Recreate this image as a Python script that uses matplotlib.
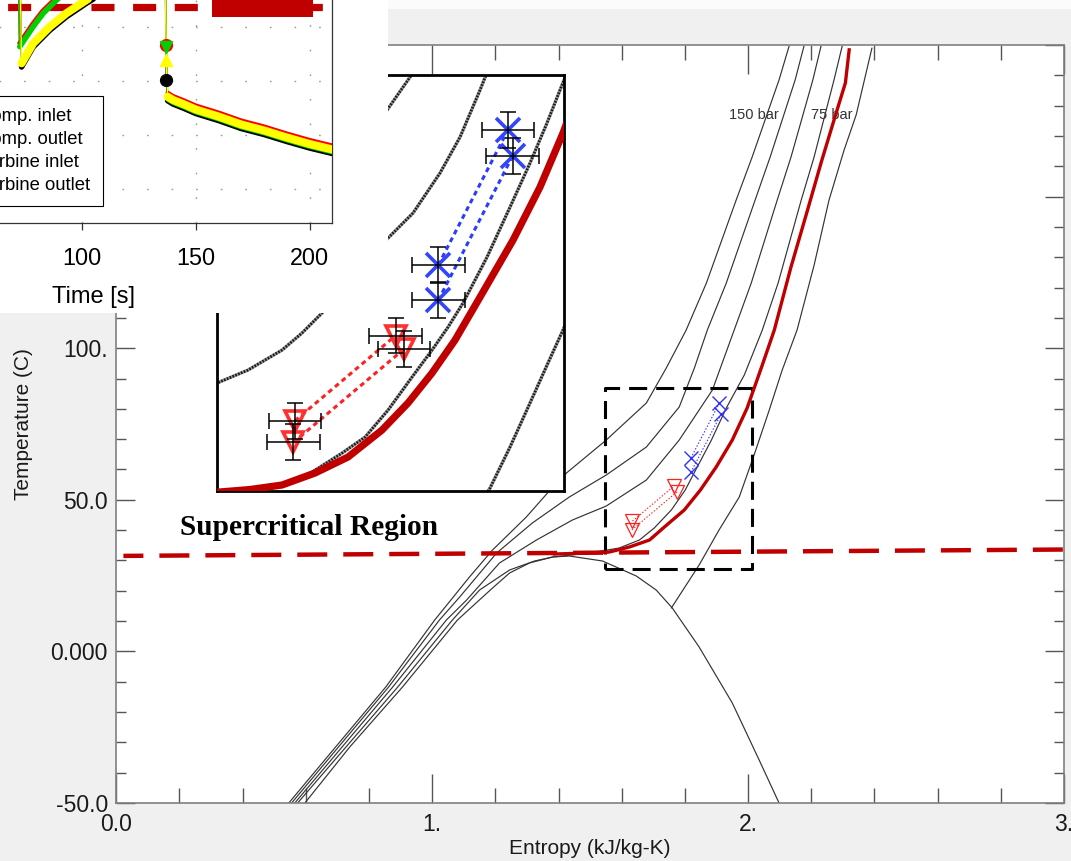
import matplotlib
matplotlib.use("Agg")
import numpy as np
import matplotlib.pyplot as plt
from matplotlib.lines import Line2D
from matplotlib.patches import Rectangle

plt.rcParams["font.family"] = ["Liberation Sans", "DejaVu Sans"]
plt.rcParams["lines.scale_dashes"] = False

W, H, DPI = 1071, 861, 100

# ---------------- main T-s chart data (entropy kJ/kg-K, temperature C) ----------------
dome_s = [0.597, 0.739, 0.906, 1.080, 1.191, 1.245, 1.308, 1.381, 1.434, 1.539, 1.646,
          1.709, 1.760, 1.845, 1.950, 2.035, 2.098]
dome_T = [-50.0, -31.53, -11.74, 10.36, 20.91, 25.86, 29.16, 31.13, 31.46, 29.82, 24.87,
          20.25, 14.31, 1.45, -17.02, -35.82, -50.0]

iso150_s = [0.546, 0.853, 1.008, 1.118, 1.191, 1.298, 1.365, 1.425, 1.551, 1.678, 1.741,
            1.804, 1.868, 1.962, 2.013, 2.098, 2.130]
iso150_T = [-50.0, -11.74, 10.36, 24.54, 33.44, 44.33, 52.24, 58.84, 69.72, 81.93, 93.47,
            106.0, 121.5, 148.8, 163.1, 188.5, 199.7]

iso120_s = [0.555, 0.862, 1.023, 1.087, 1.204, 1.317, 1.434, 1.551, 1.678, 1.782, 1.830,
            1.871, 1.931, 2.022, 2.070, 2.149, 2.177]
iso120_T = [-50.0, -11.74, 10.36, 17.94, 32.45, 42.35, 50.92, 58.18, 67.41, 80.61, 93.47,
            106.0, 121.5, 148.8, 163.1, 188.5, 199.7]

iso100_s = [0.565, 0.875, 1.045, 1.109, 1.213, 1.330, 1.444, 1.551, 1.678, 1.782, 1.887,
            1.956, 2.010, 2.092, 2.136, 2.205, 2.231]
iso100_T = [-50.0, -11.74, 10.36, 16.95, 29.16, 36.74, 43.34, 47.95, 56.53, 69.72, 86.21,
            106.0, 121.5, 148.8, 163.1, 188.5, 199.7]

iso85_s = [0.574, 0.891, 1.064, 1.150, 1.245, 1.324, 1.381, 1.498, 1.592, 1.656, 1.703,
           1.757, 1.801, 1.839, 1.884, 1.931, 1.988, 2.045, 2.095, 2.168, 2.209, 2.272, 2.298]
iso85_T = [-50.0, -11.74, 10.36, 20.25, 26.85, 29.82, 31.13, 32.45, 34.10, 36.74, 40.70,
           46.64, 53.23, 60.82, 69.72, 80.28, 91.16, 106.0, 121.5, 148.8, 163.1, 188.5, 199.7]

iso75_s = [1.387, 1.498, 1.561, 1.624, 1.688, 1.735, 1.798, 1.849, 1.899, 1.950, 1.997,
           2.045, 2.083, 2.135, 2.188, 2.232, 2.275, 2.308, 2.320]
iso75_T = [32.12, 32.45, 32.78, 34.43, 36.74, 41.03, 46.64, 53.23, 60.82, 69.72, 80.28,
           94.46, 106.0, 126.5, 145.5, 161.5, 176.3, 187.5, 198.4]

iso50_s = [1.757, 1.845, 1.908, 1.972, 2.019, 2.067, 2.108, 2.155, 2.209, 2.256, 2.304,
           2.342, 2.392]
iso50_T = [14.31, 28.50, 40.04, 50.92, 64.77, 79.62, 92.81, 106.0, 127.4, 148.8, 165.4,
           176.9, 199.0]

crit_line_s = [0.0225, 3.0]
crit_line_T = [31.5, 33.6]

box_s = [1.548, 2.012]
box_T = [27.2, 86.8]

# measured states (compressor = red triangles, turbine = blue crosses)
comp_s = [1.634, 1.632, 1.764, 1.775]
comp_T = [43.0, 40.1, 54.4, 52.6]
turb_s = [1.819, 1.819, 1.909, 1.915]
turb_T = [63.8, 59.1, 81.9, 78.4]
err_s = [0.034, 0.034, 0.034, 0.034]
err_T = [2.4, 2.4, 2.4, 2.4]

# ---------------- zoomed inset curves ----------------
zin_lim_s = [1.5338, 1.9814]
zin_lim_T = [33.64, 89.26]
zin_red_s = [1.5030, 1.5347, 1.5760, 1.6173, 1.6599, 1.7025, 1.7464, 1.7800, 1.8110,
             1.8407, 1.8730, 1.9156, 1.9504, 1.9801, 1.9956]
zin_red_T = [33.20, 33.45, 33.80, 34.40, 36.00, 38.14, 41.75, 45.37, 49.38, 53.79,
             59.54, 67.17, 74.26, 81.49, 85.90]
zin_a_s = [1.6212, 1.6561, 1.6948, 1.7245, 1.7542, 1.7852, 1.8110, 1.8317, 1.8510,
           1.8820, 1.9117, 1.9375, 1.9594, 1.9762, 1.9866]
zin_a_T = [34.66, 36.13, 38.67, 40.81, 44.42, 48.84, 52.45, 55.53, 58.74, 64.89,
           71.58, 77.47, 82.82, 87.24, 89.91]
zin_b_s = [1.5243, 1.5333, 1.5734, 1.6173, 1.6431, 1.6689, 1.7115, 1.7542, 1.7865,
           1.8213, 1.8472, 1.8730, 1.8833]
zin_b_T = [47.64, 48.04, 49.78, 52.45, 54.73, 57.41, 62.36, 67.44, 70.79, 76.14,
           80.96, 87.25, 89.93]
zin_c_s = [1.6922, 1.7529, 1.7826, 1.7903]
zin_c_T = [76.53, 84.56, 88.98, 90.45]
zin_d_s = [1.8807, 1.8859, 1.9117, 1.9375, 1.9607, 1.9801, 1.9917]
zin_d_T = [33.19, 33.99, 39.48, 45.37, 50.72, 55.14, 58.08]

# ---------------- time-series inset data ----------------
ci_t = [60, 72.8, 73.4, 78.5, 85.8, 93.1, 101.9, 112, 136.6, 137.0, 137.6, 140, 145, 150,
        160, 170, 180, 190, 200, 210]
ci_v = [49.3, 49.3, 41.30, 43.15, 44.70, 45.95, 47.20, 48.5, 49.6, 40.09, 38.18, 37.87,
        37.45, 36.99, 36.34, 35.60, 35.05, 34.40, 33.80, 33.29]
co_t = [60, 72.0, 72.4, 78.2, 82.6, 88.5, 96, 112, 136.6, 137.0, 137.6, 140, 145, 150,
        160, 170, 180, 190, 200, 210]
co_v = [50.0, 50.0, 43.50, 45.30, 46.50, 47.70, 48.8, 49.5, 50.0, 43.30, 38.92, 38.61,
        38.19, 37.73, 37.08, 36.34, 35.79, 35.14, 34.54, 34.03]
ti_t = [60, 72.0, 72.6, 78.5, 82.9, 88.8, 96, 112, 136.6, 137.0, 137.6, 140, 145, 150,
        160, 170, 180, 190, 200, 210]
ti_v = [49.8, 49.8, 43.18, 45.03, 46.27, 47.50, 48.6, 49.3, 49.9, 43.15, 38.35, 38.04,
        37.62, 37.16, 36.51, 35.77, 35.22, 34.57, 33.97, 33.46]
to_t = [60, 72.8, 73.4, 78.5, 85.8, 93.1, 101.9, 112, 136.6, 137.0, 137.6, 140, 145, 150,
        160, 170, 180, 190, 200, 210]
to_v = [49.5, 49.5, 41.64, 43.49, 45.03, 46.27, 47.50, 48.8, 49.8, 41.94, 38.55, 38.24,
        37.82, 37.36, 36.71, 35.97, 35.42, 34.77, 34.17, 33.66]
ts_labels = ["Comp. inlet", "Comp. outlet", "Turbine inlet", "Turbine outlet"]
ts_crit = [46.82, 46.82]
ts_crit_t = [0, 210]
block_t = [156.96, 201.3]
block_v = [45.93, 53.1]

x_major = [0.0, 1.0, 2.0, 3.0]
x_labels = ["0.0", "1.", "2.", "3."]
y_major = [-50, 0, 50, 100, 150, 200]
y_labels = ["-50.0", "0.000", "50.0", "100.", "150.", "200."]


def fig_rect(x0, y0, x1, y1):
    return [x0 / W, 1 - y1 / H, (x1 - x0) / W, (y1 - y0) / H]


fig = plt.figure(figsize=(W / DPI, H / DPI), dpi=DPI, facecolor="#f0f0f0")
fig.patches.append(Rectangle((388 / W, 1 - 9 / H), 1, 9 / H, transform=fig.transFigure,
                             facecolor="#fbfbfb", edgecolor="none"))

# ---------------- main axes ----------------
ax = fig.add_axes(fig_rect(116.3, 45, 1064, 803), zorder=1)
ax.set_facecolor("white")
ax.set_xlim(0, 3)
ax.set_ylim(-50, 200)
ax.set_xticks(x_major)
ax.set_xticklabels(x_labels)
ax.set_xticks(np.arange(0, 3.01, 0.2), minor=True)
ax.set_yticks(y_major)
ax.set_yticklabels(y_labels)
ax.set_yticks(np.arange(-50, 201, 10), minor=True)
ax.tick_params(which="both", direction="in", top=True, right=True, color="#555555",
               width=1.0, labelcolor="#1a1a1a")
ax.tick_params(axis="x", which="major", length=21, pad=7, labelsize=16.5)
ax.tick_params(axis="x", which="minor", length=11)
ax.tick_params(axis="y", which="major", length=13.5, pad=6, labelsize=16.5)
ax.tick_params(axis="y", which="minor", length=7)
for sp in ax.spines.values():
    sp.set_color("#808080")
    sp.set_linewidth(1.2)

thin = dict(color="#333333", lw=0.85, solid_capstyle="round")
ax.plot(dome_s, dome_T, **thin)
for s_, t_ in [(iso150_s, iso150_T), (iso120_s, iso120_T), (iso100_s, iso100_T),
               (iso85_s, iso85_T), (iso50_s, iso50_T)]:
    ax.plot(s_, t_, **thin)

ax.plot(crit_line_s, crit_line_T, color="#c00000", lw=3.2, linestyle=(7.2, (21.6, 11.5)),
        solid_capstyle="butt", zorder=3)
ax.plot(iso75_s, iso75_T, color="#c00000", lw=2.4, zorder=4)

ax.plot([box_s[0], box_s[1], box_s[1], box_s[0], box_s[0]],
        [box_T[0], box_T[0], box_T[1], box_T[1], box_T[0]],
        color="black", lw=2.2, linestyle=(0, (13, 6.5)), zorder=3)

for i in range(2):
    ax.plot([comp_s[i], comp_s[i + 2]], [comp_T[i], comp_T[i + 2]], color="#ff2020",
            lw=0.8, linestyle=(0, (1, 1.3)), zorder=5)
    ax.plot([turb_s[i], turb_s[i + 2]], [turb_T[i], turb_T[i + 2]], color="#3030ff",
            lw=0.8, linestyle=(0, (1, 1.3)), zorder=5)
ax.plot(comp_s, comp_T, "v", mfc="none", mec="#ff2020", ms=9.5, mew=0.9, zorder=6)
ax.plot(turb_s, turb_T, "x", color="#3030ff", ms=10, mew=1.0, zorder=6)

ax.text(0.202, 41.0, "Supercritical Region", family=["Liberation Serif", "DejaVu Serif"],
        fontweight="bold", fontsize=21.2, ha="left", va="center", color="black", zorder=7)
ax.text(2.019, 176.9, "150 bar", fontsize=10.5, color="#333333", ha="center", va="center")
ax.text(2.266, 176.9, "75 bar", fontsize=10.5, color="#333333", ha="center", va="center")

fig.text(590 / W, 1 - 848 / H, "Entropy (kJ/kg-K)", fontsize=15, ha="center", va="center",
         color="#1a1a1a")
fig.text(24 / W, 1 - 424 / H, "Temperature (C)", fontsize=15, ha="center", va="center",
         rotation=90, color="#1a1a1a")

# ---------------- zoomed inset ----------------
ax_in = fig.add_axes(fig_rect(217.3, 75, 564, 490.7), zorder=2)
ax_in.set_facecolor("white")
ax_in.set_xlim(*zin_lim_s)
ax_in.set_ylim(*zin_lim_T)
ax_in.set_xticks([])
ax_in.set_yticks([])
for sp in ax_in.spines.values():
    sp.set_color("black")
    sp.set_linewidth(2.0)
for s_, t_ in [(zin_a_s, zin_a_T), (zin_b_s, zin_b_T), (zin_c_s, zin_c_T), (zin_d_s, zin_d_T)]:
    ax_in.plot(s_, t_, color="#9a9a9a", lw=2.4, zorder=2)
    ax_in.plot(s_, t_, color="#1a1a1a", lw=2.0, linestyle=(0, (1.2, 1.0)), zorder=2.1)
ax_in.plot(zin_red_s, zin_red_T, color="#c00000", lw=5.2, zorder=3)
for i in range(2):
    ax_in.plot([comp_s[i], comp_s[i + 2]], [comp_T[i], comp_T[i + 2]], color="#ff2020",
               lw=2.2, linestyle=(0, (3.5, 2.8)), zorder=4)
    ax_in.plot([turb_s[i], turb_s[i + 2]], [turb_T[i], turb_T[i + 2]], color="#2a3cff",
               lw=2.2, linestyle=(0, (3.5, 2.8)), zorder=4)
ax_in.plot(comp_s, comp_T, "v", mfc="none", mec="#ff3030", ms=15, mew=2.6, zorder=5)
ax_in.plot(turb_s, turb_T, "x", color="#3344ff", ms=17, mew=2.6, zorder=5)
ax_in.errorbar(comp_s + turb_s, comp_T + turb_T, xerr=err_s + err_s, yerr=err_T + err_T,
               fmt="none", ecolor="black", elinewidth=1.1, capsize=6, capthick=1.1, zorder=6)

# ---------------- time-series inset ----------------
ax_bg = fig.add_axes(fig_rect(0, 0, 388, 312.5), zorder=3)
ax_bg.set_facecolor("white")
ax_bg.set_xticks([])
ax_bg.set_yticks([])
for sp in ax_bg.spines.values():
    sp.set_visible(False)

ax_ts = fig.add_axes(fig_rect(-145.4, -60, 332.3, 223), zorder=4)
ax_ts.set_facecolor("none")
ax_ts.set_xlim(0, 210)
ax_ts.set_ylim(26.852, 53.056)
ax_ts.set_xticks([0, 50, 100, 150, 200])
ax_ts.set_yticks([30, 35, 40, 45, 50])
ax_ts.tick_params(axis="x", direction="out", length=5, width=0.9, pad=12, labelsize=16.8,
                  color="#333333")
ax_ts.tick_params(axis="y", left=False, labelleft=False)
ax_ts.grid(True, color="#9a9a9a", lw=1.0, linestyle=(0, (1.2, 16.5)))
for side in ["top", "left"]:
    ax_ts.spines[side].set_visible(False)
for side in ["bottom", "right"]:
    ax_ts.spines[side].set_color("#333333")
    ax_ts.spines[side].set_linewidth(0.9)
ax_ts.set_xlabel("Time [s]", fontsize=17, labelpad=11.5)

ax_ts.plot(ts_crit_t, ts_crit, color="#c00000", lw=5.2, linestyle=(23.8, (16.6, 13.4)),
           solid_capstyle="butt", zorder=2)
ax_ts.add_patch(Rectangle((block_t[0], block_v[0]), block_t[1] - block_t[0],
                          block_v[1] - block_v[0], facecolor="#c00000", edgecolor="none",
                          zorder=2))

series = [
    (co_t, co_v, "#ff0000", "o", 3.0, 3.0),
    (ci_t, ci_v, "black", "o", 4.0, 3.1),
    (ti_t, ti_v, "#00d000", "v", 4.0, 3.2),
    (to_t, to_v, "#ffff00", "^", 5.8, 3.5),
]
handles = []
for t_, v_, c, m, bw, z in series:
    ax_ts.plot(t_, v_, color=c, lw=1.0, zorder=z)
    ax_ts.plot(t_[2:9], v_[2:9], color=c, lw=bw, solid_capstyle="round", zorder=z)
    ax_ts.plot(t_[10:], v_[10:], color=c, lw=bw, solid_capstyle="round", zorder=z)
    ax_ts.plot([t_[9]], [v_[9]], marker=m, color=c, ms=8.5, mec=c, zorder=z + 2)
    handles.append(Line2D([], [], color=c, marker=m, lw=1.0, ms=7))
handles = [handles[1], handles[0], handles[2], handles[3]]

leg = ax_ts.legend(handles, ts_labels, loc="upper right",
                   bbox_to_anchor=(102.5 / W, 1 - 95.7 / H), bbox_transform=fig.transFigure,
                   fontsize=13.3, frameon=True, fancybox=False, edgecolor="black",
                   framealpha=1, borderpad=0.65, labelspacing=0.33, handlelength=2.0,
                   handletextpad=0.8, borderaxespad=0)
leg.get_frame().set_linewidth(0.8)
leg.set_zorder(10)

fig.savefig("out.png", dpi=DPI, facecolor=fig.get_facecolor())
